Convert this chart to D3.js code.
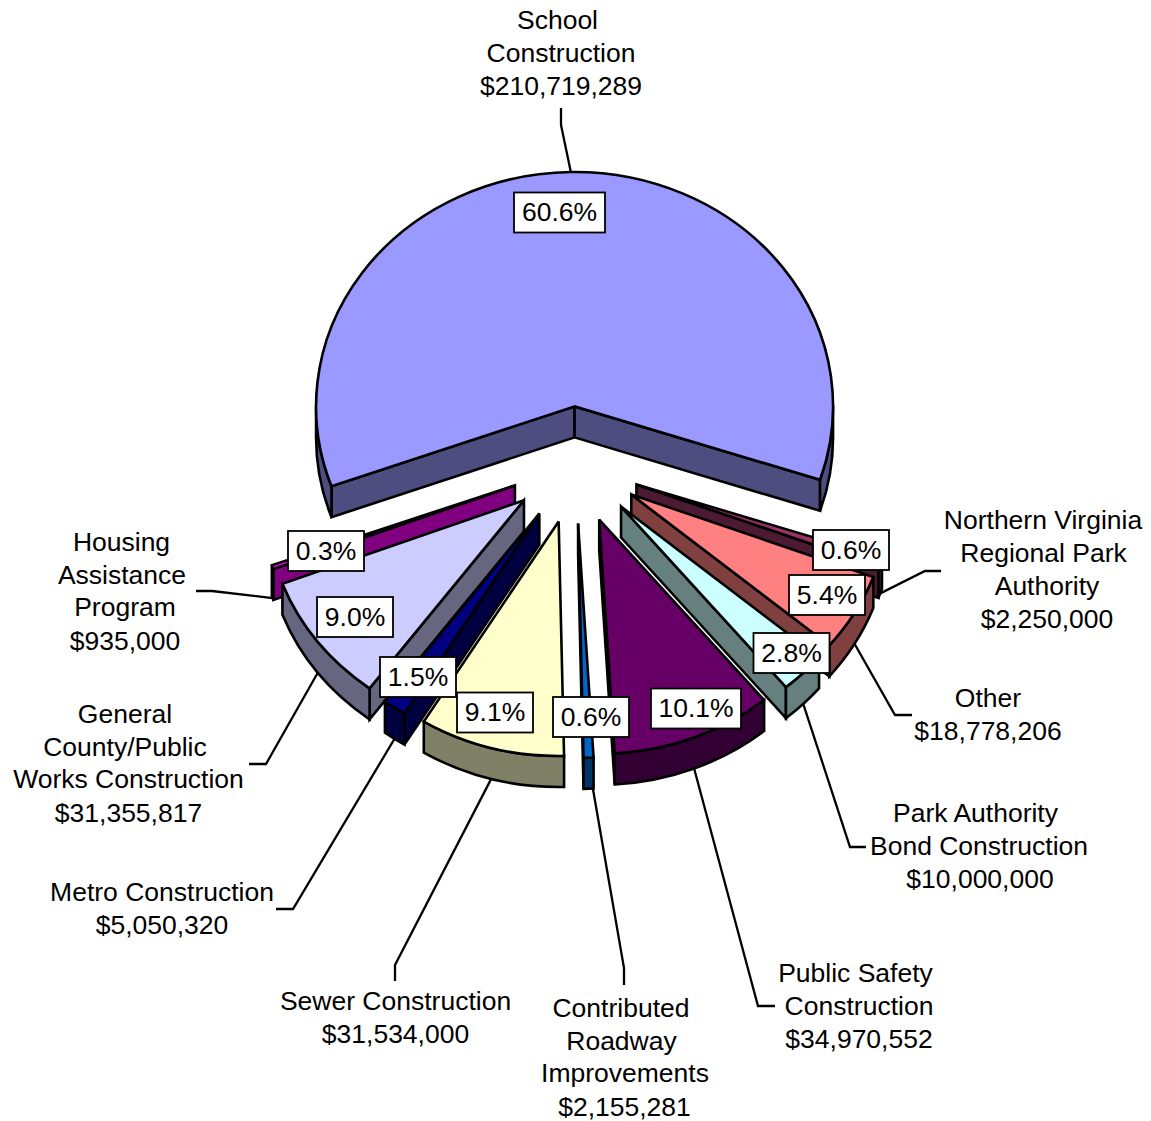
<!DOCTYPE html>
<html>
<head>
<meta charset="utf-8">
<script src="https://cdn.jsdelivr.net/npm/d3@7"></script>
<style>
html,body{margin:0;padding:0;background:#fff}
svg{display:block}
text{font-family:"Liberation Sans",Arial,sans-serif;font-size:26.5px;fill:#000}
</style>
</head>
<body>
<svg id="chart" width="1151" height="1121"></svg>
<script>
// ---- data ----
const names = [
  ["School","Construction"],
  ["Northern Virginia","Regional Park","Authority"],
  ["Other"],
  ["Park Authority","Bond Construction"],
  ["Public Safety","Construction"],
  ["Contributed","Roadway","Improvements"],
  ["Sewer Construction"],
  ["Metro Construction"],
  ["General","County/Public","Works Construction"],
  ["Housing","Assistance","Program"]
];
const values = [210719289,2250000,18778206,10000000,34970552,2155281,31534000,5050320,31355817,935000];
const percentLabels = ["60.6%","0.6%","5.4%","2.8%","10.1%","0.6%","9.1%","1.5%","9.0%","0.3%"];
const faceColors = ["#9999FF","#993366","#FF8080","#CCFFFF","#660066","#0066CC","#FFFFCC","#000080","#CCCCFF","#FF00FF"];

// ---- layout (not data) ----
const W = 1151, H = 1121;
const cx = 575.5, cy = 465, rx = 258.5, ry = 234.4, depth = 31, explode = 0.25;
const startDeg = 250.1;
const drawOrder = [0,1,2,3,4,5,9,8,7,6];
// centre of each percent box
const pctBoxes = [[559.5,212.5],[851,550],[827,595],[791.5,653],[696,708.5],[591,717],[495,712.5],[418,677],[355,617],[326,551]];
const boxW = 76, boxH = 40;
const boxWide = {0:91,4:90};
// leader: elbow and end
const leaders = [
  [[561,125],[561,108]],
  [[925,571],[941,571]],
  [[895,715],[912,715]],
  [[850,847],[866,847]],
  [[758,1006],[775,1006]],
  [[624,968],[624,985]],
  [[395,965],[395,981]],
  [[293,909],[276,909]],
  [[266,764],[249,764]],
  [[212,591],[196,591]]
];
const leaderStartNudge = {5:[4,-2]};
// per-line text centres & baselines
const labelCentres = [
  [557.5,561,561],
  [1043,1043.5,1047,1047],
  [988,988],
  [975.5,979,980],
  [855.5,859,859],
  [621,621.5,625,624.5],
  [395.5,395.5],
  [162,162],
  [125,125,128.5,128.5],
  [121.5,122,125,125]
];
const labelBaselines = [
  [29,62,95],
  [529,562,595,628],
  [707,740],
  [822,855,888],
  [982,1015,1048],
  [1017,1050,1082,1116],
  [1010,1043],
  [901,934],
  [723,756,788,822],
  [551,584,616,650]
];

const svg = d3.select("#chart");
const TAU = Math.PI*2;
const pieGen = d3.pie().value(d=>d).sort(null)
  .startAngle(startDeg*Math.PI/180).endAngle(startDeg*Math.PI/180+TAU);
const arcs = pieGen(values);
const fmtMoney = d3.format("$,");

function dir(a){ return [Math.sin(a), -Math.cos(a)]; }
function apexOf(d){
  const m = dir((d.startAngle+d.endAngle)/2);
  return [cx+m[0]*rx*explode, cy+m[1]*ry*explode];
}
function pt(ap,a,dy=0){ const v=dir(a); return [ap[0]+v[0]*rx, ap[1]+v[1]*ry+dy]; }
function arcCmd(p,large,sweep){ return `A${rx},${ry} 0 ${large?1:0} ${sweep} ${p[0]},${p[1]}`; }

function topPath(d){
  const ap=apexOf(d), a=pt(ap,d.startAngle), b=pt(ap,d.endAngle);
  return `M${ap} L${a} ${arcCmd(b,d.endAngle-d.startAngle>Math.PI,1)} Z`;
}
function radialWall(d,a){
  const ap=apexOf(d), o=pt(ap,a), o2=pt(ap,a,depth);
  return `M${ap} L${o} L${o2} L${ap[0]},${ap[1]+depth} Z`;
}
function frontSegments(d){
  const segs=[];
  for(let k=-1;k<=1;k++){
    const lo=Math.PI/2+k*TAU, hi=1.5*Math.PI+k*TAU;
    const s=Math.max(lo,d.startAngle), e=Math.min(hi,d.endAngle);
    if(e>s) segs.push([s,e]);
  }
  return segs;
}
function arcWall(d,s,e){
  const ap=apexOf(d), p1=pt(ap,s), p2=pt(ap,e), p3=pt(ap,e,depth), p4=pt(ap,s,depth);
  const lg=e-s>Math.PI;
  return `M${p1} ${arcCmd(p2,lg,1)} L${p3} ${arcCmd(p4,lg,0)} Z`;
}

// leader lines
const line = d3.line();
arcs.forEach((d,i)=>{
  const mid=(d.startAngle+d.endAngle)/2;
  const front = Math.cos(mid)<0.2;
  const start = pt(apexOf(d),mid,front?depth:0);
  const n = leaderStartNudge[i]||[0,0];
  svg.append("path").attr("class","leader")
    .attr("d",line([[start[0]+n[0],start[1]+n[1]],...leaders[i]]))
    .attr("fill","none").attr("stroke","#000").attr("stroke-width",2.3);
});

// slices
const sw = 2.6;
drawOrder.forEach(i=>{
  const d=arcs[i];
  const g=svg.append("g").attr("class","slice");
  const face=faceColors[i], wall=d3.interpolateRgb(face,"#000")(0.5);
  const common = s=>s.attr("stroke","#000").attr("stroke-width",sw).attr("stroke-linejoin","miter").attr("stroke-miterlimit",3);
  [d.startAngle,d.endAngle].forEach((a,j)=>{
    const s=Math.sin(a);
    if((j===0&&s<0)||(j===1&&s>0)){
      g.append("path").attr("d",radialWall(d,a)).attr("fill",wall).call(common);
    }
  });
  frontSegments(d).forEach(([s,e])=>{
    g.append("path").attr("d",arcWall(d,s,e)).attr("fill",wall).call(common);
  });
  g.append("path").attr("d",topPath(d)).attr("fill",face).call(common);
});

// category labels
arcs.forEach((d,i)=>{
  const lines=[...names[i],fmtMoney(values[i])];
  lines.forEach((t,j)=>{
    svg.append("text").attr("x",labelCentres[i][j]).attr("y",labelBaselines[i][j])
      .attr("text-anchor","middle").text(t);
  });
});

// percent boxes
arcs.forEach((d,i)=>{
  const w=boxWide[i]||boxW;
  const [x,y]=pctBoxes[i];
  svg.append("rect").attr("x",x-w/2).attr("y",y-boxH/2).attr("width",w).attr("height",boxH)
    .attr("fill","#fff").attr("stroke","#000").attr("stroke-width",1.8);
  svg.append("text").attr("x",x).attr("y",y+8.8).attr("text-anchor","middle").text(percentLabels[i]);
});
</script>
</body>
</html>
